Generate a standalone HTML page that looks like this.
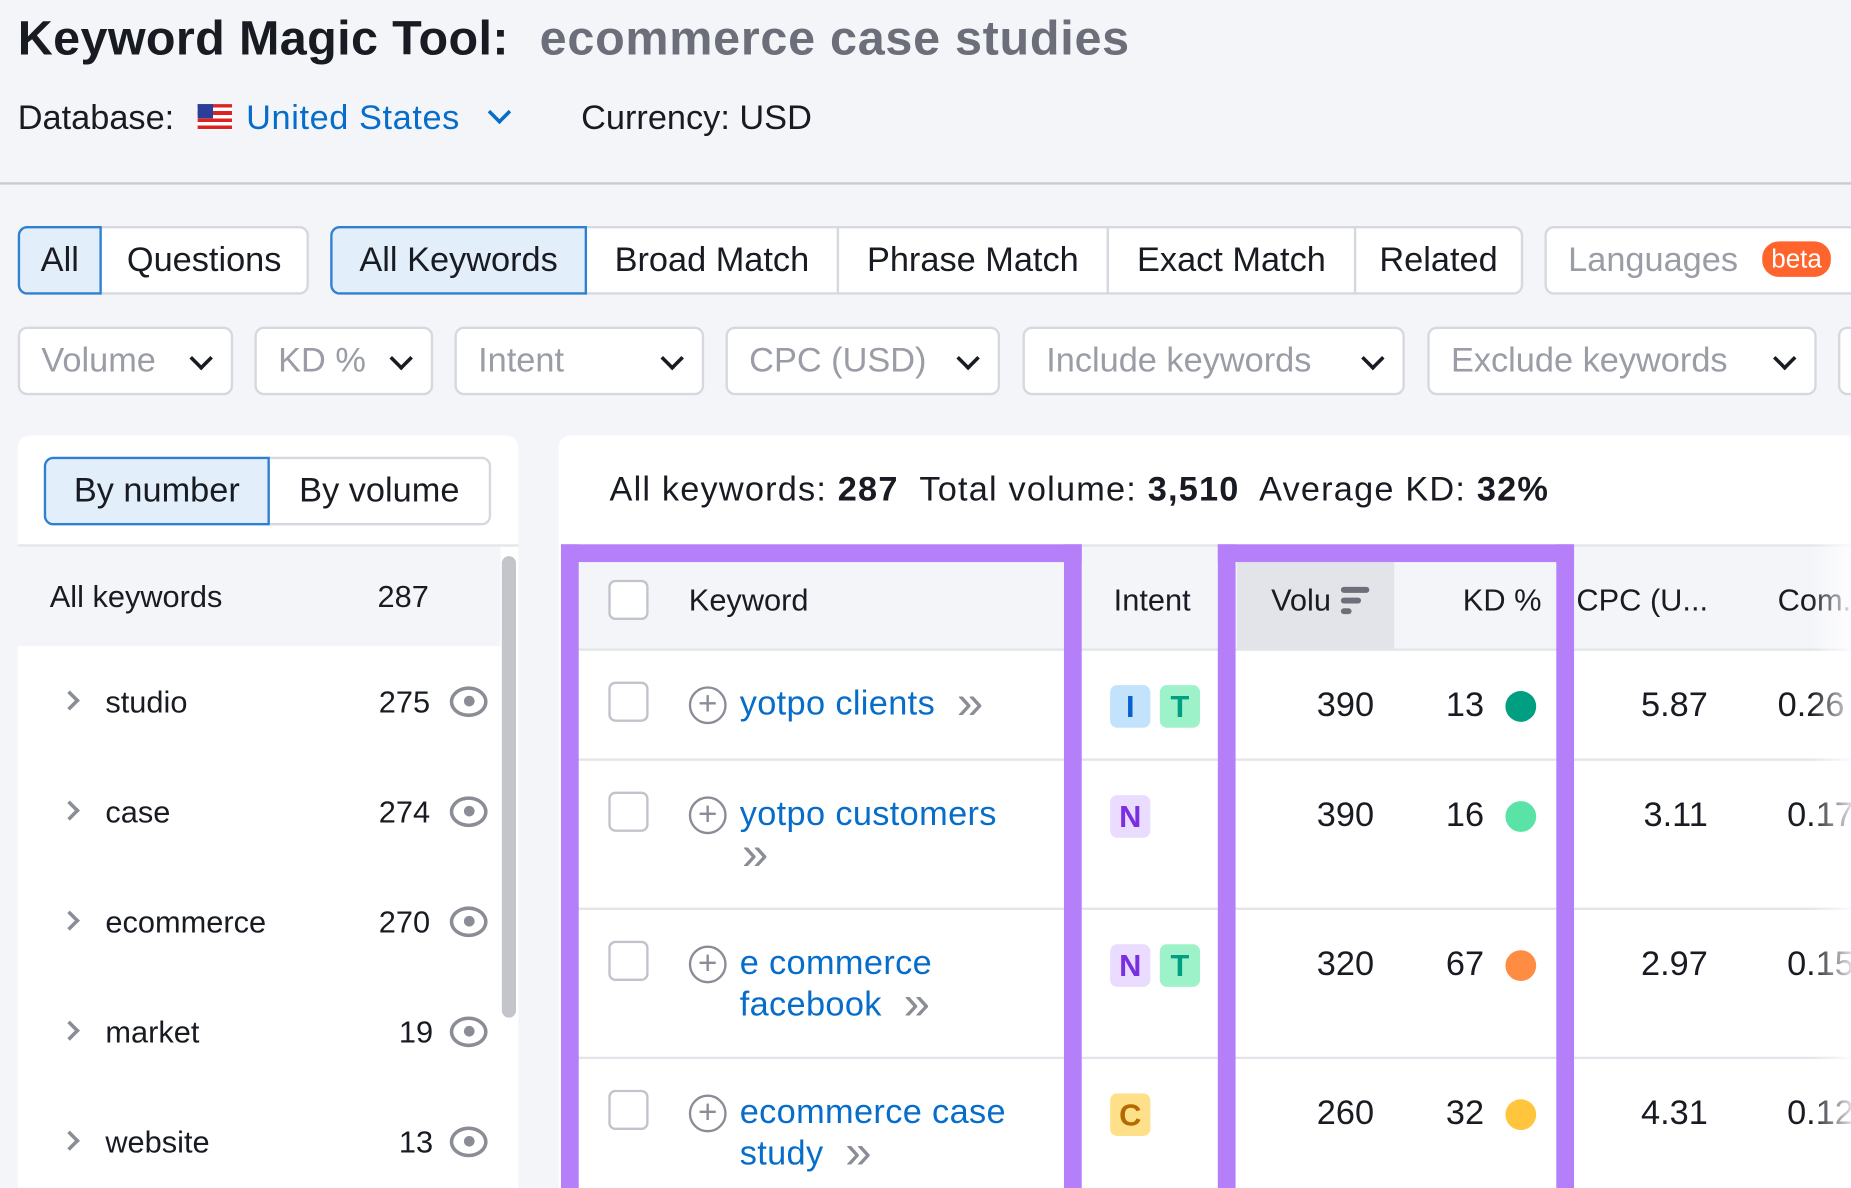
<!DOCTYPE html>
<html><head><meta charset="utf-8"><style>
*{box-sizing:border-box;margin:0;padding:0}
html,body{width:1851px;height:1188px;overflow:hidden;background:#f4f5f9}
#w{position:absolute;left:0;top:0;width:1564px;height:1004px;overflow:hidden;transform:scale(1.1835,1.1833);transform-origin:0 0;font-family:"Liberation Sans",sans-serif;color:#191b23}
.a{position:absolute;white-space:nowrap}
.btn{position:absolute;top:191px;height:58px;border:2px solid #d6d8e0;background:#fff;font-size:29px;line-height:54px;text-align:center}
.sel{background:#e3eefb;border-color:#2f80d1;z-index:2}
.f{position:absolute;top:276px;height:58px;border:2px solid #d6d8e0;border-radius:8px;background:#fff;font-size:29px;line-height:54px;color:#9a9ca6;padding-left:18px}
.chev{position:absolute;right:18px;top:18px;width:14px;height:14px;border-right:3.5px solid #191b23;border-bottom:3.5px solid #191b23;transform:rotate(45deg)}
.row{position:absolute;left:15px;width:410px;font-size:26px}
.eye{position:absolute;left:365px;width:32px;height:26px;border:3px solid #8a8c96;border-radius:50%/50%}
.eye:after{content:"";position:absolute;left:9px;top:5px;width:9px;height:9px;background:#8a8c96;border-radius:50%}
.cb{position:absolute;left:514px;width:34px;height:34px;border:2px solid #c2c4cc;border-radius:6px;background:#fff}
.plus{position:absolute;left:582px;width:32px;height:32px;border:2.5px solid #8a8c96;border-radius:50%;font-size:28px;line-height:25px;text-align:center;color:#8a8c96}
.kw{position:absolute;left:625px;font-size:29px;color:#066dca;letter-spacing:0.3px}
.ch{color:#8a8c96;font-size:40px;line-height:29px;margin-left:10px;vertical-align:-3px}
.lc{position:absolute;left:38px;top:2px;width:12px;height:12px;border-right:3px solid #8a8c96;border-top:3px solid #8a8c96;transform:rotate(45deg);margin-top:6px}
.b{position:absolute;width:34px;height:36px;border-radius:6px;font-size:26px;font-weight:bold;text-align:center;line-height:36px}
.num{position:absolute;font-size:29px;text-align:right}
.dot{position:absolute;left:1272px;width:26px;height:26px;border-radius:50%}
.hl{position:absolute;left:474px;width:1090px;height:2px;background:#e4e5ea}
</style></head><body><div id="w">
<div class="a" style="left:15px;top:9px;font-size:41px;font-weight:bold;letter-spacing:0.3px">Keyword Magic Tool:</div>
<div class="a" style="left:456px;top:9px;font-size:41px;font-weight:bold;color:#6c6e79;letter-spacing:0.6px">ecommerce case studies</div>
<div class="a" style="left:15px;top:84px;font-size:29px">Database:</div>
<div class="a" style="left:167px;top:88px;width:29px;height:22px;background:repeating-linear-gradient(#d22 0 3px,#fff 3px 6px)"><div style="width:13px;height:12px;background:#2a3f9a"></div></div>
<div class="a" style="left:208px;top:84px;font-size:29px;color:#066dca;letter-spacing:0.5px">United States</div>
<div class="a" style="left:415px;top:88px;width:14px;height:14px;border-right:3.5px solid #066dca;border-bottom:3.5px solid #066dca;transform:rotate(45deg)"></div>
<div class="a" style="left:491px;top:84px;font-size:29px">Currency: USD</div>
<div class="a" style="left:0;top:154px;width:1564px;height:2px;background:#c8cad4"></div>

<div class="btn sel" style="left:15px;width:71px;border-radius:8px 0 0 8px">All</div>
<div class="btn" style="left:84px;width:177px;border-radius:0 8px 8px 0">Questions</div>
<div class="btn sel" style="left:279px;width:217px;border-radius:8px 0 0 8px">All Keywords</div>
<div class="btn" style="left:494px;width:215px">Broad Match</div>
<div class="btn" style="left:707px;width:230px">Phrase Match</div>
<div class="btn" style="left:935px;width:211px">Exact Match</div>
<div class="btn" style="left:1144px;width:143px;border-radius:0 8px 8px 0">Related</div>
<div class="btn" style="left:1305px;width:270px;border-radius:8px 0 0 8px;text-align:left;padding-left:18px;color:#9a9ca6">Languages <span style="display:inline-block;background:#ff642d;color:#fff;border-radius:14px;font-size:22px;line-height:30px;padding:0 8px;vertical-align:3px;margin-left:12px">beta</span></div>

<div class="f" style="left:15px;width:182px">Volume<div class="chev"></div></div>
<div class="f" style="left:215px;width:151px">KD %<div class="chev"></div></div>
<div class="f" style="left:384px;width:211px">Intent<div class="chev"></div></div>
<div class="f" style="left:613px;width:232px">CPC (USD)<div class="chev"></div></div>
<div class="f" style="left:864px;width:323px">Include keywords<div class="chev"></div></div>
<div class="f" style="left:1206px;width:329px">Exclude keywords<div class="chev"></div></div>
<div class="f" style="left:1553px;width:40px"></div>

<!-- left panel -->
<div class="a" style="left:15px;top:368px;width:423px;height:660px;background:#fff;border-radius:10px"></div>
<div class="a" style="left:37px;top:386px;width:191px;height:58px;background:#e3eefb;border:2px solid #2f80d1;border-radius:8px 0 0 8px;font-size:29px;line-height:54px;text-align:center;z-index:2">By number</div>
<div class="a" style="left:226px;top:386px;width:189px;height:58px;border:2px solid #d6d8e0;border-radius:0 8px 8px 0;font-size:29px;line-height:54px;text-align:center;background:#fff">By volume</div>
<div class="a" style="left:15px;top:460px;width:423px;height:2px;background:#e4e5ea"></div>
<div class="a" style="left:15px;top:462px;width:408px;height:84px;background:#f4f5f9"></div>
<div class="a" style="left:42px;top:489px;font-size:26px">All keywords</div>
<div class="a" style="left:319px;top:489px;font-size:26px">287</div>
<div class="a" style="left:424px;top:470px;width:12px;height:390px;background:#c4c5ca;border-radius:6px"></div>

<div class="row" style="top:578px"><span class="lc"></span><span class="a" style="left:74px">studio</span><span class="a" style="left:305px">275</span></div><div class="eye" style="left:380px;top:580px"></div>
<div class="row" style="top:671px"><span class="lc"></span><span class="a" style="left:74px">case</span><span class="a" style="left:305px">274</span></div><div class="eye" style="left:380px;top:673px"></div>
<div class="row" style="top:764px"><span class="lc"></span><span class="a" style="left:74px">ecommerce</span><span class="a" style="left:305px">270</span></div><div class="eye" style="left:380px;top:766px"></div>
<div class="row" style="top:857px"><span class="lc"></span><span class="a" style="left:74px">market</span><span class="a" style="left:322px">19</span></div><div class="eye" style="left:380px;top:859px"></div>
<div class="row" style="top:950px"><span class="lc"></span><span class="a" style="left:74px">website</span><span class="a" style="left:322px">13</span></div><div class="eye" style="left:380px;top:952px"></div>

<!-- right panel -->
<div class="a" style="left:472px;top:368px;width:1100px;height:660px;background:#fff;border-radius:10px 0 0 0"></div>
<div class="a" style="left:515px;top:398px;font-size:29px;letter-spacing:1px">All keywords: <b>287</b>&nbsp; Total volume: <b>3,510</b>&nbsp; Average KD: <b>32%</b></div>
<div class="a" style="left:474px;top:462px;width:1090px;height:87px;background:#f4f5f9"></div>
<div class="a" style="left:1045px;top:475px;width:133px;height:74px;background:#e3e4e9"></div>
<div class="hl" style="top:460px"></div>
<div class="hl" style="top:548px"></div>
<div class="hl" style="top:641px"></div>
<div class="hl" style="top:767px"></div>
<div class="hl" style="top:893px"></div>

<div class="cb" style="top:490px"></div>
<div class="a" style="left:582px;top:492px;font-size:26px">Keyword</div>
<div class="a" style="left:941px;top:492px;font-size:26px">Intent</div>
<div class="a" style="left:1074px;top:492px;font-size:26px">Volu</div>
<div class="a" style="left:1133px;top:496px;width:24px;height:5px;background:#6c6e79;border-radius:3px"></div>
<div class="a" style="left:1133px;top:505px;width:17px;height:5px;background:#6c6e79;border-radius:3px"></div>
<div class="a" style="left:1133px;top:514px;width:9px;height:5px;background:#6c6e79;border-radius:3px"></div>
<div class="a" style="left:1236px;top:492px;font-size:26px">KD %</div>
<div class="a" style="left:1332px;top:492px;font-size:26px">CPC (U...</div>
<div class="a" style="left:1502px;top:492px;font-size:26px">Com.</div>

<!-- row1 -->
<div class="cb" style="top:576px"></div><div class="plus" style="top:580px">+</div>
<div class="kw" style="top:579px">yotpo clients <span class="ch">&#187;</span></div>
<div class="b" style="left:938px;top:579px;background:#c3e3fc;color:#0b5fcf">I</div>
<div class="b" style="left:980px;top:579px;background:#9ef2c9;color:#009f81">T</div>
<div class="num" style="left:1060px;width:101px;top:580px">390</div>
<div class="num" style="left:1180px;width:74px;top:580px">13</div>
<div class="dot" style="top:584px;background:#009f81"></div>
<div class="num" style="left:1340px;width:103px;top:580px">5.87</div>
<div class="a" style="left:1502px;top:580px;font-size:29px">0.26</div>
<!-- row2 -->
<div class="cb" style="top:669px"></div><div class="plus" style="top:673px">+</div>
<div class="kw" style="top:672px">yotpo customers</div>
<div class="kw" style="top:707px;left:617px"><span class="ch">&#187;</span></div>
<div class="b" style="left:938px;top:672px;background:#eadcff;color:#7a2fe0">N</div>
<div class="num" style="left:1060px;width:101px;top:673px">390</div>
<div class="num" style="left:1180px;width:74px;top:673px">16</div>
<div class="dot" style="top:677px;background:#59e3a7"></div>
<div class="num" style="left:1340px;width:103px;top:673px">3.11</div>
<div class="a" style="left:1510px;top:673px;font-size:29px">0.17</div>
<!-- row3 -->
<div class="cb" style="top:795px"></div><div class="plus" style="top:799px">+</div>
<div class="kw" style="top:798px">e commerce</div>
<div class="kw" style="top:833px">facebook <span class="ch">&#187;</span></div>
<div class="b" style="left:938px;top:798px;background:#eadcff;color:#7a2fe0">N</div>
<div class="b" style="left:980px;top:798px;background:#9ef2c9;color:#009f81">T</div>
<div class="num" style="left:1060px;width:101px;top:799px">320</div>
<div class="num" style="left:1180px;width:74px;top:799px">67</div>
<div class="dot" style="top:803px;background:#ff8c43"></div>
<div class="num" style="left:1340px;width:103px;top:799px">2.97</div>
<div class="a" style="left:1510px;top:799px;font-size:29px">0.15</div>
<!-- row4 -->
<div class="cb" style="top:921px"></div><div class="plus" style="top:925px">+</div>
<div class="kw" style="top:924px">ecommerce case</div>
<div class="kw" style="top:959px">study <span class="ch">&#187;</span></div>
<div class="b" style="left:938px;top:924px;background:#ffe08a;color:#b46a00">C</div>
<div class="num" style="left:1060px;width:101px;top:925px">260</div>
<div class="num" style="left:1180px;width:74px;top:925px">32</div>
<div class="dot" style="top:929px;background:#ffc53d"></div>
<div class="num" style="left:1340px;width:103px;top:925px">4.31</div>
<div class="a" style="left:1510px;top:925px;font-size:29px">0.12</div>

<div class="a" style="left:1530px;top:460px;width:40px;height:570px;background:linear-gradient(90deg,rgba(255,255,255,0),#fff)"></div>
<!-- purple boxes -->
<div class="a" style="left:474px;top:460px;width:440px;height:580px;border:15px solid #b57ffa;border-bottom:none"></div>
<div class="a" style="left:1029px;top:460px;width:301px;height:580px;border:15px solid #b57ffa;border-bottom:none"></div>
</div></body></html>
